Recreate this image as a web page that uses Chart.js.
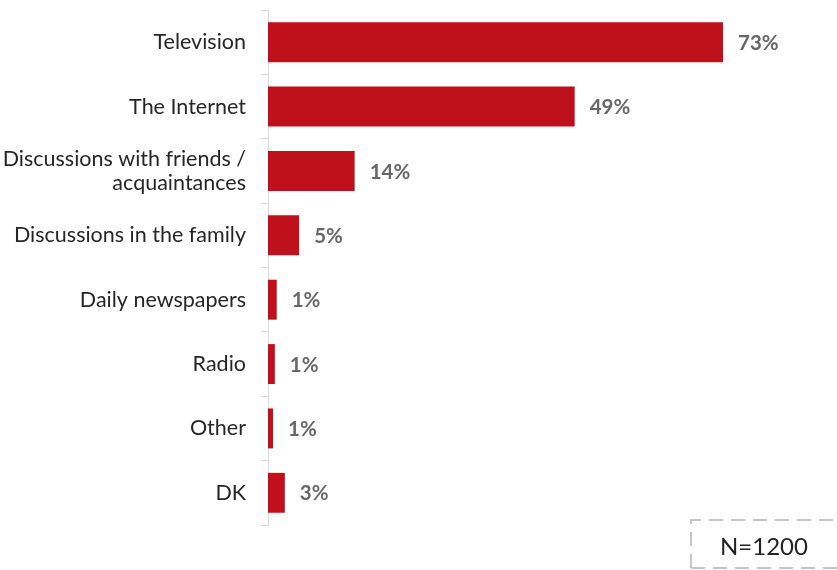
<!DOCTYPE html>
<html>
<head>
<meta charset="utf-8">
<script src="https://cdn.jsdelivr.net/npm/chart.js@4/dist/chart.umd.min.js"></script>
<style>
  html, body { margin: 0; padding: 0; background: #ffffff; }
  #wrap { position: relative; width: 837px; height: 570px; }
</style>
</head>
<body>
<div id="wrap"><canvas id="c" width="837" height="570"></canvas></div>
<script>
const categories = [
  "Television",
  "The Internet",
  ["Discussions with friends /", "acquaintances"],
  "Discussions in the family",
  "Daily newspapers",
  "Radio",
  "Other",
  "DK"
];
const shares = [73, 49.2, 13.9, 5, 1.4, 1.1, 0.8, 2.7];
const shareLabels = ["73%", "49%", "14%", "5%", "1%", "1%", "1%", "3%"];
const sampleNote = "N=1200";

const valueLabelPlugin = {
  id: 'valueLabels',
  afterDatasetsDraw(chart) {
    const ctx = chart.ctx;
    const meta = chart.getDatasetMeta(0);
    ctx.save();
    ctx.font = 'bold 20.5px Lato';
    ctx.fillStyle = '#676767';
    ctx.textAlign = 'left';
    ctx.textBaseline = 'middle';
    meta.data.forEach((bar, i) => {
      ctx.fillText(shareLabels[i], bar.x + 15, bar.y + 1);
    });
    ctx.restore();
  },
  afterDraw(chart) {
    const ctx = chart.ctx;
    ctx.save();
    ctx.strokeStyle = '#c4c4c4';
    ctx.lineWidth = 2;
    ctx.setLineDash([14, 8]);
    ctx.beginPath();
    ctx.moveTo(691, 568);
    ctx.lineTo(691, 520);
    ctx.lineTo(837, 520);
    ctx.stroke();
    ctx.beginPath();
    ctx.moveTo(691, 568);
    ctx.lineTo(837, 568);
    ctx.stroke();
    ctx.setLineDash([]);
    ctx.font = '24px Lato';
    ctx.fillStyle = '#222222';
    ctx.textAlign = 'left';
    ctx.textBaseline = 'middle';
    ctx.fillText(sampleNote, 720, 547);
    ctx.restore();
  }
};

new Chart(document.getElementById('c'), {
  type: 'bar',
  data: {
    labels: categories,
    datasets: [{
      data: shares,
      backgroundColor: '#BE111B',
      borderWidth: 0,
      categoryPercentage: 0.62,
      barPercentage: 1.0
    }]
  },
  options: {
    indexAxis: 'y',
    responsive: false,
    animation: false,
    devicePixelRatio: 1,
    layout: { padding: { top: 10, bottom: 45, left: 0, right: 8 } },
    plugins: {
      legend: { display: false },
      tooltip: { enabled: false }
    },
    scales: {
      x: {
        display: false,
        min: 0,
        max: 90
      },
      y: {
        afterFit(scale) {
          scale.width = 268;
          scale.paddingTop = 0;
          scale.paddingBottom = 0;
        },
        border: { display: true, color: '#d9d9d9', width: 1 },
        grid: {
          display: true,
          offset: true,
          drawOnChartArea: false,
          drawTicks: true,
          tickLength: 7,
          color: '#d9d9d9'
        },
        ticks: {
          padding: 15,
          color: '#262626',
          font: { family: 'Lato', size: 21.5, lineHeight: 1.12 }
        }
      }
    }
  },
  plugins: [valueLabelPlugin]
});
</script>
</body>
</html>
